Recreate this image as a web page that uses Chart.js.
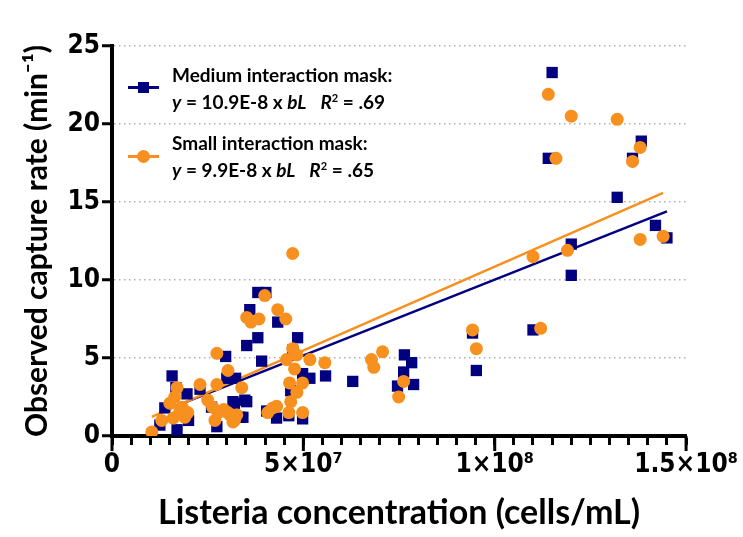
<!DOCTYPE html>
<html>
<head>
<meta charset="utf-8">
<script src="https://cdn.jsdelivr.net/npm/chart.js@4/dist/chart.umd.min.js"></script>
<style>
  html, body { margin: 0; padding: 0; background: #fff; }
  #wrap { position: relative; width: 743px; height: 537px; }
  .leg { position: absolute; left: 172px; font-family: Lato, "Open Sans", sans-serif; font-weight: bold; font-size: 19px; color: #000; white-space: nowrap; line-height: 1; }
  .leg i { font-style: italic; }
  .line { position: absolute; left: 128px; width: 31px; height: 3px; }
  .sq { position: absolute; width: 11px; height: 11px; background: #000080; }
  .dot { position: absolute; width: 13px; height: 13px; border-radius: 50%; background: #f7901e; }
</style>
</head>
<body>
<div id="wrap">
  <canvas id="captureChart" width="743" height="537"></canvas>
  <div class="line" style="top:86px; background:#000080;"></div>
  <div class="sq" style="left:138px; top:82px;"></div>
  <div class="leg" style="top:65px;">Medium interaction mask:</div>
  <div class="leg" style="top:92px;"><i>y</i> = 10.9E-8 x <i>bL</i>&nbsp;&nbsp; <i>R</i><sup style="font-size:11px">2</sup> = .69</div>
  <div class="line" style="top:155px; background:#f7901e;"></div>
  <div class="dot" style="left:137px; top:150px;"></div>
  <div class="leg" style="top:133px;">Small interaction mask:</div>
  <div class="leg" style="top:160px;"><i>y</i> = 9.9E-8 x <i>bL</i>&nbsp;&nbsp; <i>R</i><sup style="font-size:11px">2</sup> = .65</div>
</div>
<script>
// Data (x in cells/mL, y in min^-1)
const mediumX = [1.25e7, 1.38e7, 1.57e7, 1.67e7, 1.70e7, 1.96e7, 2.0e7, 2.3e7, 2.6e7, 2.74e7,
  2.97e7, 3.0e7, 3.16e7, 3.2e7, 3.23e7, 3.34e7, 3.42e7, 3.47e7, 3.52e7, 3.52e7,
  3.6e7, 3.81e7, 3.81e7, 3.91e7, 4.02e7, 4.04e7, 4.3e7, 4.33e7, 4.62e7, 4.67e7,
  4.72e7, 4.85e7, 4.98e7, 4.98e7, 5.17e7, 5.58e7, 6.29e7, 7.46e7, 7.62e7, 7.64e7,
  7.83e7, 7.88e7, 9.42e7, 9.52e7, 11.0e7, 11.4e7, 11.5e7, 12.0e7, 12.0e7, 13.2e7,
  13.6e7, 13.83e7, 14.2e7, 14.5e7];
const mediumY = [0.7, 1.8, 3.85, 3.1, 0.4, 2.7, 1.0, 3.0, 1.85, 0.6,
  5.1, 3.7, 2.2, 2.1, 3.7, 1.2, 1.2, 2.3, 2.2, 5.8,
  8.1, 9.2, 6.3, 4.8, 9.2, 1.6, 1.15, 7.3, 1.3, 2.9,
  5.5, 6.3, 4.0, 1.1, 3.7, 3.85, 3.5, 3.2, 4.1, 5.2,
  4.7, 3.3, 6.6, 4.2, 6.8, 17.8, 23.3, 12.3, 10.3, 15.3,
  17.8, 18.9, 13.5, 12.7];

const smallX = [1.04e7, 1.3e7, 1.51e7, 1.6e7, 1.64e7, 1.70e7, 1.77e7, 1.83e7, 1.9e7, 1.98e7,
  2.3e7, 2.5e7, 2.63e7, 2.69e7, 2.74e7, 2.74e7, 2.77e7, 2.92e7, 3.03e7, 3.03e7,
  3.08e7, 3.16e7, 3.2e7, 3.26e7, 3.39e7, 3.52e7, 3.63e7, 3.84e7, 3.99e7, 4.07e7,
  4.2e7, 4.3e7, 4.33e7, 4.54e7, 4.56e7, 4.62e7, 4.64e7, 4.67e7, 4.72e7, 4.72e7,
  4.77e7, 4.83e7, 4.83e7, 4.98e7, 4.98e7, 5.17e7, 5.56e7, 6.78e7, 6.84e7, 7.07e7,
  7.49e7, 7.62e7, 9.42e7, 9.52e7, 11.0e7, 11.2e7, 11.4e7, 11.6e7, 11.9e7, 12.0e7,
  13.2e7, 13.6e7, 13.8e7, 13.8e7, 14.4e7];
const smallY = [0.26, 1.0, 2.1, 1.15, 2.5, 3.1, 1.55, 1.85, 1.2, 1.5,
  3.3, 2.3, 1.85, 1.0, 3.3, 5.3, 1.5, 1.7, 4.2, 1.5,
  1.35, 0.9, 1.0, 1.35, 3.1, 7.6, 7.3, 7.5, 9.0, 1.5,
  1.8, 1.9, 8.1, 7.5, 4.9, 1.5, 3.4, 2.2, 11.7, 5.6,
  4.3, 5.2, 2.8, 3.4, 1.5, 4.9, 4.7, 4.9, 4.4, 5.4,
  2.5, 3.5, 6.8, 5.6, 11.5, 6.9, 21.9, 17.8, 11.9, 20.5,
  20.3, 17.6, 18.5, 12.6, 12.8];

// regression lines (end points)
const mediumFitX = [1.25e7, 14.5e7];
const mediumFitY = [1.52, 14.4];
const smallFitX = [1.04e7, 14.4e7];
const smallFitY = [1.23, 15.58];

const xMajor = [0, 5e7, 1e8, 1.5e8];
const xMajorLabels = ['0', '5×10⁷', '1×10⁸', '1.5×10⁸'];

const NAVY = '#000080';
const ORANGE = '#f7901e';

function pts(xs, ys) {
    return xs.map((x, i) => ({ x: x, y: ys[i] }));
}

// longer tick marks at the labelled x values
const majorTicks = {
    id: 'majorTicks',
    afterDraw(chart) {
        const xs = chart.scales.x;
        const ctx = chart.ctx;
        ctx.save();
        ctx.strokeStyle = '#000';
        ctx.lineWidth = 3;
        xMajor.forEach(v => {
            const px = xs.getPixelForValue(v);
            ctx.beginPath();
            ctx.moveTo(px, xs.top);
            ctx.lineTo(px, xs.top + 15);
            ctx.stroke();
        });
        ctx.restore();
    }
};

const tickFont = { family: '"Liberation Sans Narrow", "DejaVu Sans Condensed", sans-serif', weight: 'bold', size: 26 };

let captureChart;
function initChart() {
    const ctx = document.getElementById('captureChart').getContext('2d');
    captureChart = new Chart(ctx, {
        type: 'scatter',
        data: {
            datasets: [
                { label: 'Small interaction mask', data: pts(smallX, smallY), order: 1,
                  pointStyle: 'circle', pointRadius: 6.5, backgroundColor: ORANGE, borderColor: ORANGE, borderWidth: 0 },
                { label: 'Medium interaction mask', data: pts(mediumX, mediumY), order: 2,
                  pointStyle: 'rect', pointRadius: 8, backgroundColor: NAVY, borderColor: NAVY, borderWidth: 0 },
                { label: 'Small fit', data: pts(smallFitX, smallFitY), order: 3, showLine: true,
                  pointRadius: 0, borderColor: ORANGE, borderWidth: 2.5 },
                { label: 'Medium fit', data: pts(mediumFitX, mediumFitY), order: 4, showLine: true,
                  pointRadius: 0, borderColor: NAVY, borderWidth: 2.5 }
            ]
        },
        options: {
            responsive: false,
            animation: false,
            layout: { padding: { top: 46, right: 55, left: 0, bottom: 0 } },
            plugins: { legend: { display: false }, tooltip: { enabled: false } },
            scales: {
                x: {
                    type: 'linear',
                    min: 0, max: 1.5e8,
                    afterFit: s => { s.height = 101; },
                    ticks: {
                        stepSize: 5e6, autoSkip: false, maxRotation: 0, padding: 5,
                        color: '#000', font: tickFont,
                        callback: v => {
                            const i = xMajor.indexOf(v);
                            return i >= 0 ? xMajorLabels[i] : '';
                        }
                    },
                    grid: { drawOnChartArea: false, tickLength: 9, tickWidth: 3, tickColor: '#000' },
                    border: { width: 4, color: '#000' },
                    title: { display: true, text: 'Listeria concentration (cells/mL)', color: '#000',
                             font: { family: 'Lato, "Open Sans", sans-serif', weight: 'bold', size: 34 },
                             padding: { top: 0, bottom: 4 } }
                },
                y: {
                    min: 0, max: 25,
                    afterFit: s => { s.width = 112; },
                    ticks: { stepSize: 5, padding: 2, color: '#000', font: tickFont },
                    grid: {
                        color: c => (c.tick && c.tick.value === 0) ? 'rgba(0,0,0,0)' : '#b0b0b0',
                        lineWidth: 1.5, tickLength: 10, tickWidth: 3, tickColor: '#000'
                    },
                    border: { width: 4, color: '#000', dash: [1.5, 3.5] },
                    title: { display: true, text: 'Observed capture rate (min⁻¹)', color: '#000',
                             font: { family: 'Lato, "Open Sans", sans-serif', weight: 'bold', size: 30 },
                             padding: { top: 19, bottom: 0 } }
                }
            }
        },
        plugins: [majorTicks]
    });
}

initChart();
</script>
</body>
</html>
